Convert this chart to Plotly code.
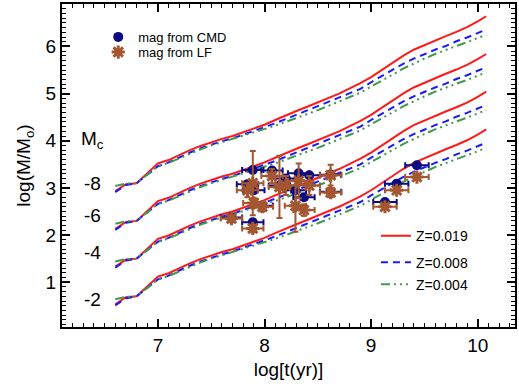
import plotly.graph_objects as go

# Model tracks: log(M/Msun) of a cluster with M_c = -8 versus log age
log_age = [6.6, 6.7, 6.8, 6.9, 7.0, 7.1, 7.2, 7.3, 7.4, 7.5, 7.6, 7.7, 7.8, 7.9,
           8.0, 8.1, 8.2, 8.3, 8.4, 8.5, 8.6, 8.7, 8.8, 8.9, 9.0, 9.1, 9.2, 9.3,
           9.4, 9.5, 9.6, 9.7, 9.8, 9.9, 10.0, 10.08]
track_z019 = [2.93, 3.08, 3.10, 3.31, 3.52, 3.59, 3.70, 3.80, 3.89, 3.97, 4.04, 4.10,
              4.18, 4.26, 4.34, 4.44, 4.54, 4.63, 4.72, 4.81, 4.90, 5.00, 5.11, 5.22,
              5.35, 5.50, 5.66, 5.80, 5.93, 6.03, 6.13, 6.22, 6.31, 6.41, 6.53, 6.64]
track_z008 = [2.91, 3.06, 3.10, 3.28, 3.46, 3.54, 3.65, 3.75, 3.84, 3.92, 3.99, 4.05,
              4.13, 4.20, 4.28, 4.37, 4.46, 4.55, 4.64, 4.73, 4.82, 4.91, 5.00, 5.10,
              5.24, 5.37, 5.51, 5.63, 5.74, 5.84, 5.93, 6.01, 6.11, 6.19, 6.28, 6.36]
track_z004 = [3.04, 3.09, 3.10, 3.28, 3.46, 3.53, 3.63, 3.73, 3.82, 3.90, 3.97, 4.03,
              4.10, 4.17, 4.24, 4.32, 4.40, 4.48, 4.56, 4.65, 4.74, 4.83, 4.92, 5.02,
              5.15, 5.27, 5.40, 5.53, 5.64, 5.74, 5.84, 5.93, 6.01, 6.09, 6.17, 6.25]
track_ref_mag = -8
cluster_mags = [-8, -6, -4, -2]

# Observed clusters
cl_age = [7.69, 7.89, 7.89, 7.84, 7.98, 7.90, 8.07, 8.14, 8.20, 8.32, 8.29, 8.37,
          8.42, 8.62, 8.62, 9.13, 9.24, 9.43]
cl_age_err = [0.10, 0.10, 0.10, 0.10, 0.10, 0.10, 0.10, 0.10, 0.10, 0.10, 0.10, 0.10,
              0.10, 0.10, 0.10, 0.11, 0.11, 0.11]
mass_cmd = [2.37, 2.27, 3.38, 3.08, 2.62, 2.95, 3.37, 3.05, 3.20, 3.31, 2.95, 2.80,
            3.27, 3.28, 2.92, 2.70, 3.09, 3.48]
mass_cmd_err = [0.05, 0.05, 0.06, 0.05, 0.05, 0.05, 0.05, 0.05, 0.06, 0.05, 0.05, 0.05,
                0.05, 0.05, 0.05, 0.05, 0.05, 0.05]
mass_lf = [2.35, 2.14, 3.10, 2.95, 2.60, 2.68, 3.25, 3.02, 3.05, 3.15, 2.62, 2.53,
           3.05, 3.27, 2.90, 2.60, 2.95, 3.23]
mass_lf_err = [0.08, 0.08, 0.68, 0.15, 0.10, 0.10, 0.15, 0.66, 0.20, 0.37, 0.55, 0.12,
               0.20, 0.22, 0.10, 0.06, 0.06, 0.06]

mc_label_y = [3.10, 2.42, 1.64, 0.63]

RED = "#ff1a1a"
BLUE = "#1a1aff"
GREEN = "#3f9a4f"
NAVY = "#0a0a82"
BROWN = "#a3562f"
FONT = "Liberation Sans, Arial, sans-serif"

fig = go.Figure()

# each legend entry lives in its own legend box so the rows can be spaced freely
styles = [
    ("Z=0.019", track_z019, dict(color=RED, width=2, dash="solid"), "legend3"),
    ("Z=0.008", track_z008, dict(color=BLUE, width=2, dash="7px,5px"), "legend4"),
    ("Z=0.004", track_z004, dict(color=GREEN, width=2,
                                 dash="9px,4px,2px,4px,2px,4px,2px,4px"), "legend5"),
]
for name, track, line, leg in styles:
    for i, mag in enumerate(cluster_mags):
        # fainter clusters are less massive: 0.4 dex per magnitude
        shift = 0.4 * (mag - track_ref_mag)
        fig.add_trace(go.Scatter(
            x=log_age, y=[v - shift for v in track], mode="lines", line=line,
            name=name, showlegend=(i == 0), legend=leg, hoverinfo="skip"))

fig.add_trace(go.Scatter(
    x=cl_age, y=mass_cmd, mode="markers", name="mag from CMD",
    marker=dict(symbol="circle", size=10, color=NAVY),
    error_x=dict(type="data", array=cl_age_err, color=NAVY, thickness=2, width=3),
    error_y=dict(type="data", array=mass_cmd_err, color=NAVY, thickness=2, width=3),
    legend="legend"))
fig.add_trace(go.Scatter(
    x=cl_age, y=mass_lf, mode="markers", name="mag from LF",
    marker=dict(symbol="asterisk-open", size=11, color=BROWN,
                line=dict(color=BROWN, width=3)),
    error_x=dict(type="data", array=cl_age_err, color=BROWN, thickness=2, width=3),
    error_y=dict(type="data", array=mass_lf_err, color=BROWN, thickness=2, width=3),
    legend="legend2"))

annotations = [dict(x=6.39, y=4.01, text="M<sub>c</sub>", showarrow=False,
                    font=dict(size=19, color="black", family=FONT))]
for mag, yl in zip(cluster_mags, mc_label_y):
    annotations.append(dict(x=6.385, y=yl, text=str(mag), showarrow=False,
                            font=dict(size=19, color="black", family=FONT)))

axis_common = dict(
    showline=True, linecolor="black", linewidth=2, mirror="allticks",
    ticks="inside", ticklen=8, tickwidth=1.5, tickcolor="black",
    showgrid=False, zeroline=False,
    tickfont=dict(size=19, color="black", family=FONT),
)


def legend_box(x, y, size):
    return dict(x=x, y=y, xanchor="left", yanchor="middle",
                bgcolor="rgba(0,0,0,0)", font=dict(size=size, family=FONT),
                itemwidth=30)


fig.update_layout(
    width=519, height=389,
    margin=dict(l=62, r=2, t=4, b=62),
    paper_bgcolor="white", plot_bgcolor="white",
    font=dict(family=FONT, color="black"),
    xaxis=dict(range=[6.1, 10.35], tickvals=[7, 8, 9, 10],
               minor=dict(dtick=0.1, tick0=6.1, ticks="inside", ticklen=4,
                          tickcolor="black", tickwidth=1),
               title=dict(text="log[t(yr)]", font=dict(size=19, family=FONT),
                          standoff=8),
               **axis_common),
    yaxis=dict(range=[0.05, 6.9], tickvals=[1, 2, 3, 4, 5, 6],
               minor=dict(dtick=0.1, tick0=0, ticks="inside", ticklen=4,
                          tickcolor="black", tickwidth=1),
               title=dict(text="log(M/M<sub>o</sub>)", font=dict(size=19, family=FONT),
                          standoff=10),
               **axis_common),
    legend=legend_box(0.08, 0.898, 13),
    legend2=legend_box(0.08, 0.851, 13),
    legend3=legend_box(0.693, 0.281, 14),
    legend4=legend_box(0.693, 0.199, 14),
    legend5=legend_box(0.693, 0.131, 14),
    annotations=annotations,
    showlegend=True,
)

fig.write_html("out.html")
